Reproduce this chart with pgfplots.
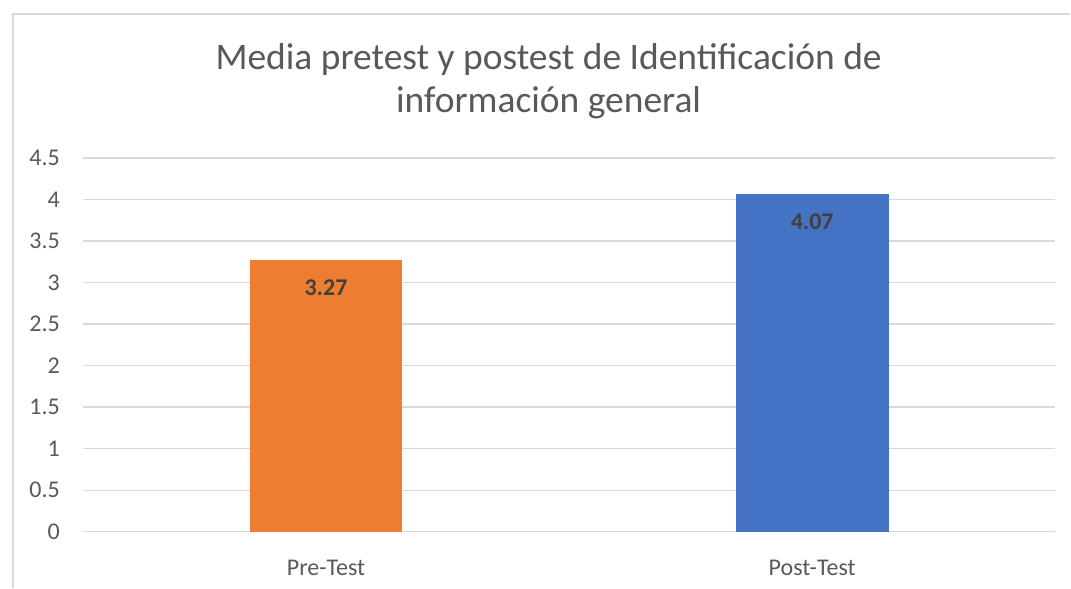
\documentclass[border=0pt]{standalone}
\usepackage{pgfplots}
\pgfplotsset{compat=1.18}
\usepackage{fontspec}
\setmainfont{Carlito}
\definecolor{txtgray}{HTML}{595959}
\definecolor{lblgray}{HTML}{404040}
\definecolor{gridgray}{HTML}{D9D9D9}
\definecolor{xlorange}{HTML}{ED7D31}
\definecolor{xlblue}{HTML}{4472C4}
\begin{document}
\begin{tikzpicture}
\begin{axis}[
    scale only axis,
    width=973pt,
    height=374pt,
    ybar,
    bar width=153pt,
    bar shift=0pt,
    xmin=-0.5, xmax=1.5,
    ymin=0, ymax=4.5,
    ytick={0,0.5,...,4.5},
    xtick={0,1},
    xticklabels={Pre-Test, Post-Test},
    ymajorgrids,
    grid style={draw=gridgray, line width=1.2pt},
    axis line style={draw=none},
    major tick style={draw=none},
    /pgf/number format/assume math mode=true,
    ticklabel style={font=\fontsize{24}{28}\selectfont, text=txtgray, inner sep=0pt},
    yticklabel style={anchor=east, xshift=-23pt},
    xticklabel style={anchor=north, yshift=-24pt},
    nodes near coords={\pgfmathprintnumber[fixed,fixed zerofill,precision=2]{\pgfplotspointmeta}},
    nodes near coords style={font=\fontsize{24}{28}\selectfont\bfseries, text=lblgray, anchor=center, yshift=-28pt},
    clip=false,
]
\addplot[fill=xlorange, draw=none] coordinates {(0,3.27)};
\addplot[fill=xlblue, draw=none] coordinates {(1,4.07)};

% frame and page size
\draw[gridgray, line width=1.5pt] (rel axis cs:1.0154,1.385) -- (rel axis cs:-0.0719,1.385) -- (rel axis cs:-0.0719,-0.1497);
\path (rel axis cs:-0.0853,1.4225) (rel axis cs:1.01542,-0.1497);

% title
\node[anchor=base, text=txtgray, font=\fontsize{37.5}{43}\selectfont] at (rel axis cs:0.4789,1.2353) {Media pretest y postest de Identificación de};
\node[anchor=base, text=txtgray, font=\fontsize{37.5}{43}\selectfont] at (rel axis cs:0.4789,1.1203) {información general};
\end{axis}
\end{tikzpicture}
\end{document}
